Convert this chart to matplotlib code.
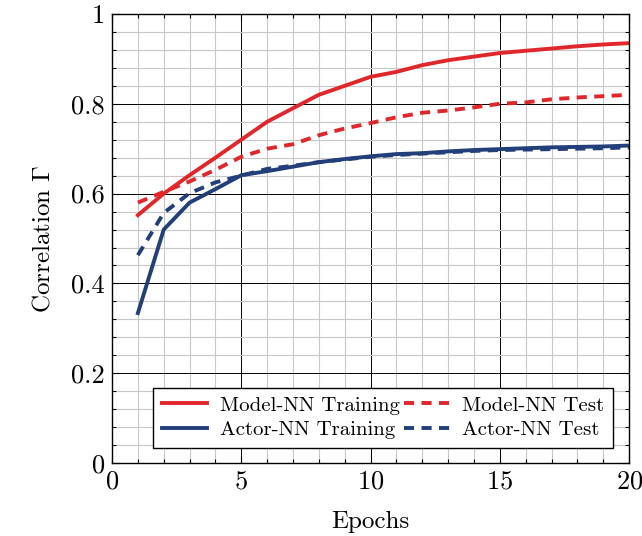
import numpy as np
import matplotlib
matplotlib.use("Agg")
import matplotlib.pyplot as plt
from matplotlib.ticker import MultipleLocator, FuncFormatter

# Werte
epochs = list(range(1, 21))
model_train = [0.552, 0.600, 0.641, 0.680, 0.720, 0.760, 0.790, 0.820, 0.840, 0.860,
               0.871, 0.886, 0.897, 0.905, 0.913, 0.918, 0.923, 0.928, 0.932, 0.935]
model_test = [0.580, 0.604, 0.627, 0.653, 0.682, 0.700, 0.710, 0.730, 0.745, 0.757,
              0.770, 0.780, 0.785, 0.792, 0.800, 0.803, 0.810, 0.814, 0.817, 0.820]
actor_train = [0.334, 0.520, 0.580, 0.610, 0.641, 0.650, 0.660, 0.670, 0.677, 0.683,
               0.688, 0.690, 0.694, 0.697, 0.699, 0.701, 0.703, 0.704, 0.705, 0.707]
actor_test = [0.463, 0.557, 0.601, 0.625, 0.640, 0.655, 0.662, 0.670, 0.676, 0.682,
              0.686, 0.689, 0.692, 0.695, 0.697, 0.698, 0.699, 0.700, 0.701, 0.703]

red = '#e0282c'
blue = '#233f7a'
dash = (0, (2.6, 1.9))

plt.rcParams['font.family'] = 'cmr10'
plt.rcParams['mathtext.fontset'] = 'cm'
plt.rcParams['axes.formatter.use_mathtext'] = True

fig = plt.figure(figsize=(6.42, 5.36), dpi=100)
ax = fig.add_axes([0.1745, 0.136, 0.8055, 0.838])

l1, = ax.plot(epochs, model_train, color=red, lw=2.8, label='Model-NN Training')
l2, = ax.plot(epochs, model_test, color=red, lw=2.8, ls=dash, label='Model-NN Test')
l3, = ax.plot(epochs, actor_train, color=blue, lw=2.8, label='Actor-NN Training')
l4, = ax.plot(epochs, actor_test, color=blue, lw=2.8, ls=dash, label='Actor-NN Test')

ax.set_xlim(0, 20)
ax.set_ylim(0, 1)
ax.xaxis.set_major_locator(MultipleLocator(5))
ax.xaxis.set_minor_locator(MultipleLocator(1))
ax.yaxis.set_major_locator(MultipleLocator(0.2))
ax.yaxis.set_minor_locator(MultipleLocator(0.04))
ax.yaxis.set_major_formatter(FuncFormatter(lambda v, p: '%g' % round(v, 2)))

ax.grid(which='major', color='black', lw=0.7)
ax.grid(which='minor', color='#c8c8c8', lw=0.8)
ax.set_axisbelow(True)
ax.tick_params(which='both', direction='in', top=True, right=True, labelsize=19, width=0.8)
ax.tick_params(which='major', length=5, pad=5)
ax.tick_params(which='minor', length=3)
for s in ax.spines.values():
    s.set_linewidth(1.0)

ax.set_xlabel('Epochs', fontsize=18, labelpad=12)
ax.set_ylabel(r'Correlation $\Gamma$', fontsize=18, labelpad=12)

# Reihenfolge so, dass Training links und Test rechts steht
leg = ax.legend([l1, l3, l2, l4], [l1.get_label(), l3.get_label(), l2.get_label(), l4.get_label()],
                ncol=2, loc='lower center', bbox_to_anchor=(0.524, 0.034), fontsize=15,
                frameon=True, fancybox=False, edgecolor='black', framealpha=1,
                handlelength=2.2, columnspacing=0.2, handletextpad=0.6,
                labelspacing=0.3, borderpad=0.4, borderaxespad=0)
leg.get_frame().set_linewidth(1.0)

fig.savefig('out.png', dpi=100)
